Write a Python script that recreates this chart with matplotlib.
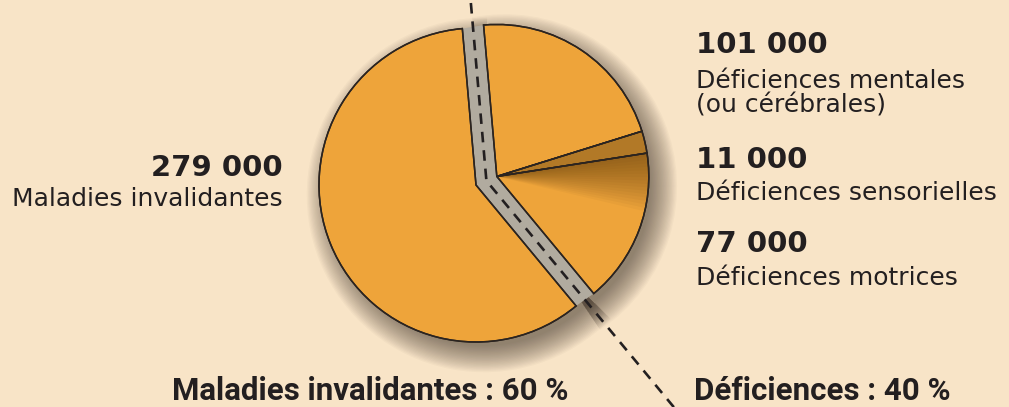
import numpy as np
import matplotlib.pyplot as plt
from matplotlib.patches import Wedge, Polygon

# data
categories = ["Déficiences mentales\n(ou cérébrales)", "Déficiences sensorielles",
              "Déficiences motrices", "Maladies invalidantes"]
values = [101000, 11000, 77000, 279000]
value_labels = ["101 000", "11 000", "77 000", "279 000"]
group_titles = ["Maladies invalidantes : 60 %", "Déficiences : 40 %"]

bg = "#f8e4c7"
orange = "#eea43a"
edge = "#2b2420"
txt = "#231f20"

W, H = 1009, 407
fig = plt.figure(figsize=(W / 100, H / 100), dpi=100)
fig.patch.set_facecolor(bg)
ax = fig.add_axes([0, 0, 1, 1])
ax.set_facecolor(bg)

cx, cy, r = 476, H - 185, 157
wedges, _ = ax.pie(values, startangle=95, counterclock=False, center=(cx, cy), radius=r,
                   colors=[orange] * 4,
                   wedgeprops=dict(edgecolor=edge, linewidth=1.1, zorder=3))

# pull the "déficiences" group out along its mid angle
a_start = wedges[0].theta2
a_end = wedges[2].theta1
a_mid = np.deg2rad((a_start + a_end) / 2)
shift = 22.5
rc = (cx + shift * np.cos(a_mid), cy + shift * np.sin(a_mid))
r2 = 152
for w in wedges[:3]:
    w.set_center(rc)
    w.set_radius(r2)

def pt(c, rad, ang):
    a = np.deg2rad(ang)
    return (c[0] + rad * np.cos(a), c[1] + rad * np.sin(a))

# soft drop shadow
off = (8, -10)
for k in range(22):
    d = k * 1.25 - 6
    ax.add_patch(Wedge((cx + off[0], cy + off[1]), r + d, wedges[3].theta1 - 6,
                       wedges[3].theta2 + 6, color="#3b3027", alpha=0.03, lw=0, zorder=1))
    ax.add_patch(Wedge((rc[0] + off[0], rc[1] + off[1]), r2 + d, a_end - 6, a_start + 6,
                       color="#3b3027", alpha=0.03, lw=0, zorder=1))

# grey band in the gap
band = [pt((cx, cy), r, a_start), (cx, cy), pt((cx, cy), r, a_end),
        pt(rc, r2, a_end), rc, pt(rc, r2, a_start)]
ax.add_patch(Polygon(band, closed=True, facecolor="#b1ab9f", edgecolor="none", zorder=2))

# shading on the small slices
ax.add_patch(Wedge(rc, r2, wedges[1].theta1, wedges[1].theta2, color="#5a3a0c", alpha=0.4,
                   lw=0, zorder=4))
top = wedges[2].theta2
for k in range(1, 18):
    ax.add_patch(Wedge(rc, r2, top - k * 1.3, top, color="#4a2e08", alpha=0.04, lw=0, zorder=4))
for w in wedges:
    ax.add_patch(Wedge(w.center, w.r, w.theta1, w.theta2, fill=False, ec=edge, lw=1.1, zorder=5))

# dashed separator
m = ((cx + rc[0]) / 2, (cy + rc[1]) / 2)
t_up = (H - 3 - m[1]) / np.sin(np.deg2rad(a_start))
t_dn = (m[1] + 5) / -np.sin(np.deg2rad(a_end))
p_top = pt(m, t_up, a_start)
p_bot = pt(m, t_dn, a_end)
ax.plot([p_top[0], m[0], p_bot[0]], [p_top[1], m[1], p_bot[1]], color=txt, lw=1.9,
        dashes=(4, 3), zorder=6, solid_capstyle="butt")

ax.set_xlim(0, W)
ax.set_ylim(0, H)
ax.set_aspect("equal")
ax.axis("off")

numfont = dict(family=["DejaVu Sans"], weight="bold", fontsize=21, color=txt)
labfont = dict(family=["DejaVu Sans"], fontsize=18, color=txt)

# left label
ax.text(283, H - 176, value_labels[3], ha="right", va="baseline", **numfont)
ax.text(283, H - 206, categories[3], ha="right", va="baseline", **labfont)

# right labels
xr = 696
ax.text(xr, H - 53, value_labels[0], ha="left", va="baseline", **numfont)
ax.text(xr, H - 88, "Déficiences mentales", ha="left", va="baseline", **labfont)
ax.text(xr, H - 112, "(ou cérébrales)", ha="left", va="baseline", **labfont)
ax.text(xr, H - 168, value_labels[1], ha="left", va="baseline", **numfont)
ax.text(xr, H - 200, categories[1], ha="left", va="baseline", **labfont)
ax.text(xr, H - 252, value_labels[2], ha="left", va="baseline", **numfont)
ax.text(xr, H - 285, categories[2], ha="left", va="baseline", **labfont)

# group titles
tfont = dict(family=["Roboto", "DejaVu Sans"], weight="bold", fontsize=22.5, color=txt)
ax.text(172, H - 400, group_titles[0], ha="left", va="baseline", **tfont)
ax.text(694, H - 400, group_titles[1], ha="left", va="baseline", **tfont)

fig.savefig("out.png", dpi=100, facecolor=bg)
